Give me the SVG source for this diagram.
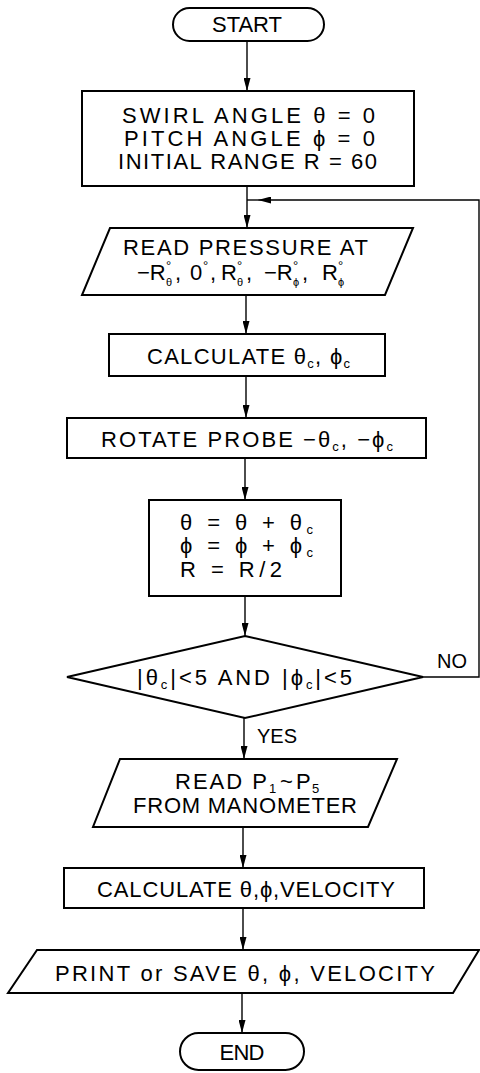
<svg xmlns="http://www.w3.org/2000/svg" width="480" height="1073" viewBox="0 0 480 1073">
<style>
  .shape{fill:#fff;stroke:#000;stroke-width:2}
  .conn{fill:none;stroke:#000;stroke-width:1.4}
  text{font-family:"Liberation Sans","DejaVu Sans",Arial,sans-serif;font-size:22px;fill:#000}
  .lbl{font-size:20px}
  .sub{font-size:13px}
  .deg{font-size:13px}
  .dsub{font-size:11px;fill:#000}
</style>
<defs>
  <marker id="ah" viewBox="0 0 13 7" refX="13" refY="3.5" markerWidth="13" markerHeight="7" markerUnits="userSpaceOnUse" orient="auto">
    <path d="M0,0 L13,3.5 L0,7 z" fill="#000"/>
  </marker>
</defs>

<g id="connectors">
  <line class="conn" x1="247" y1="41" x2="247" y2="91" marker-end="url(#ah)"/>
  <line class="conn" x1="247" y1="186" x2="247" y2="228" marker-end="url(#ah)"/>
  <line class="conn" x1="246" y1="295" x2="246" y2="334" marker-end="url(#ah)"/>
  <line class="conn" x1="246" y1="376" x2="246" y2="418" marker-end="url(#ah)"/>
  <line class="conn" x1="245" y1="458" x2="245" y2="500" marker-end="url(#ah)"/>
  <line class="conn" x1="245" y1="596" x2="245" y2="636" marker-end="url(#ah)"/>
  <line class="conn" x1="244" y1="718" x2="244" y2="759" marker-end="url(#ah)"/>
  <line class="conn" x1="243" y1="827" x2="243" y2="868" marker-end="url(#ah)"/>
  <line class="conn" x1="243" y1="908" x2="243" y2="950" marker-end="url(#ah)"/>
  <line class="conn" x1="242" y1="993" x2="242" y2="1033" marker-end="url(#ah)"/>
  <path class="conn" d="M423,677 L479,677 L479,200 L258,200" marker-end="url(#ah)"/>
  <line class="conn" x1="258" y1="200" x2="247" y2="200"/>
  <text class="lbl" x="437" y="668">NO</text>
  <text class="lbl" x="257" y="743">YES</text>
</g>

<g id="start">
  <rect class="shape" x="173" y="8" width="151" height="33" rx="16.5"/>
  <text x="247" y="32" text-anchor="middle" textLength="70" lengthAdjust="spacing">START</text>
</g>

<g id="init">
  <rect class="shape" x="82" y="91" width="332" height="95"/>
  <text x="122" y="123" textLength="253" lengthAdjust="spacing">SWIRL ANGLE θ = 0</text>
  <text x="124" y="146" textLength="251" lengthAdjust="spacing">PITCH ANGLE ϕ = 0</text>
  <text x="118" y="169" textLength="259" lengthAdjust="spacing">INITIAL RANGE R = 60</text>
</g>

<g id="read-pressure">
  <polygon class="shape" points="110,228 413,228 385,295 82,295"/>
  <text x="123" y="255" textLength="245" lengthAdjust="spacing">READ PRESSURE AT</text>
  <text y="280">
    <tspan x="137">−R</tspan><tspan class="deg" x="166" y="270">°</tspan><tspan class="dsub" x="166" y="286">θ</tspan><tspan x="175" y="280">,</tspan>
    <tspan x="190">0</tspan><tspan class="deg" x="203" y="270">°</tspan><tspan x="210" y="280">,</tspan>
    <tspan x="221">R</tspan><tspan class="deg" x="237" y="270">°</tspan><tspan class="dsub" x="237" y="286">θ</tspan><tspan x="246" y="280">,</tspan>
    <tspan x="264">−R</tspan><tspan class="deg" x="293" y="270">°</tspan><tspan class="dsub" x="293" y="286">ϕ</tspan><tspan x="302" y="280">,</tspan>
    <tspan x="322">R</tspan><tspan class="deg" x="338" y="270">°</tspan><tspan class="dsub" x="338" y="286">ϕ</tspan>
  </text>
</g>

<g id="calc-c">
  <rect class="shape" x="109" y="334" width="276" height="42"/>
  <text x="147" y="364" textLength="203" lengthAdjust="spacing">CALCULATE θ<tspan class="sub" dy="4">c</tspan><tspan dy="-4">, ϕ</tspan><tspan class="sub" dy="4">c</tspan></text>
</g>

<g id="rotate">
  <rect class="shape" x="67" y="418" width="359" height="40"/>
  <text x="101" y="447" textLength="292" lengthAdjust="spacing">ROTATE PROBE −θ<tspan class="sub" dy="4">c</tspan><tspan dy="-4">, −ϕ</tspan><tspan class="sub" dy="4">c</tspan></text>
</g>

<g id="update">
  <rect class="shape" x="149" y="500" width="192" height="96"/>
  <text x="180" y="530" textLength="133" lengthAdjust="spacing">θ = θ + θ<tspan class="sub" dy="4">c</tspan></text>
  <text x="180" y="553" textLength="133" lengthAdjust="spacing">ϕ = ϕ + ϕ<tspan class="sub" dy="4">c</tspan></text>
  <text x="180" y="577" textLength="102" lengthAdjust="spacing">R = R/2</text>
</g>

<g id="decision">
  <polygon class="shape" points="245,636 423,677 245,718 67,677"/>
  <text x="137" y="685" textLength="215" lengthAdjust="spacing">|θ<tspan class="sub" dy="4">c</tspan><tspan dy="-4">|&lt;5 AND |ϕ</tspan><tspan class="sub" dy="4">c</tspan><tspan dy="-4">|&lt;5</tspan></text>
</g>

<g id="read-p">
  <polygon class="shape" points="120,759 397,759 368,827 93,827"/>
  <text y="789"><tspan x="175" textLength="92" lengthAdjust="spacing">READ P</tspan><tspan class="sub" x="269" y="793">1</tspan><tspan x="280" y="789">~</tspan><tspan x="296">P</tspan><tspan class="sub" x="312" y="793">5</tspan></text>
  <text x="133" y="813" textLength="224" lengthAdjust="spacing">FROM MANOMETER</text>
</g>

<g id="calc-v">
  <rect class="shape" x="64" y="868" width="360" height="40"/>
  <text x="97" y="897" textLength="298" lengthAdjust="spacing">CALCULATE θ,ϕ,VELOCITY</text>
</g>

<g id="print">
  <polygon class="shape" points="37,950 479,950 453,993 8,993"/>
  <text x="55" y="981" textLength="380" lengthAdjust="spacing">PRINT or SAVE θ, ϕ, VELOCITY</text>
</g>

<g id="end">
  <rect class="shape" x="180" y="1033" width="124" height="37" rx="18.5"/>
  <text x="242" y="1060" text-anchor="middle" textLength="45" lengthAdjust="spacing">END</text>
</g>
</svg>
